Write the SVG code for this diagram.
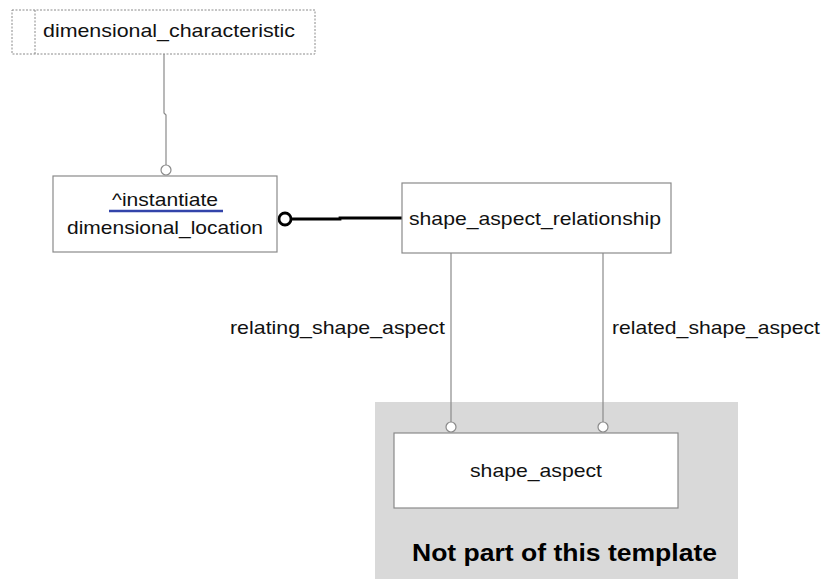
<svg xmlns="http://www.w3.org/2000/svg" width="824" height="579" viewBox="0 0 824 579">
<style>
text{font-family:"Liberation Sans",Arial,sans-serif;font-size:19px;fill:#111;}
.box{fill:#fff;stroke:#8a8a8a;stroke-width:1.2;}
.thin{fill:none;stroke:#8a8a8a;stroke-width:1.2;}
.oc{fill:#fff;stroke:#8a8a8a;stroke-width:1.2;}
</style>
<rect x="0" y="0" width="824" height="579" fill="#fff"/>
<rect x="375" y="402" width="363" height="177" fill="#d9d9d9"/>
<g id="connectors">
<polyline class="thin" points="164,54 164,113 166,115 166,165"/>
<circle class="oc" cx="166" cy="170" r="5"/>
<polyline points="291,219 340,219 340,218 402,218" fill="none" stroke="#000" stroke-width="2.8"/>
<circle cx="285" cy="219" r="6" fill="#fff" stroke="#000" stroke-width="2.8"/>
<line class="thin" x1="451" y1="253" x2="451" y2="422"/>
<circle class="oc" cx="451" cy="427" r="5"/>
<line class="thin" x1="603" y1="253" x2="603" y2="422"/>
<circle class="oc" cx="603" cy="427" r="5"/>
<text x="230" y="334" textLength="215" lengthAdjust="spacingAndGlyphs">relating_shape_aspect</text>
<text x="612" y="334" textLength="208" lengthAdjust="spacingAndGlyphs">related_shape_aspect</text>
</g>
<g id="dimensional_characteristic">
<rect x="12" y="10" width="303" height="44" fill="#fff" stroke="#8a8a8a" stroke-width="1" stroke-dasharray="2,1.5"/>
<line x1="35" y1="10" x2="35" y2="54" stroke="#8a8a8a" stroke-width="1" stroke-dasharray="2,1.5"/>
<text x="43" y="37" textLength="252" lengthAdjust="spacingAndGlyphs">dimensional_characteristic</text>
</g>
<g id="dimensional_location">
<rect class="box" x="53" y="176" width="224" height="76"/>
<text x="112" y="206" textLength="106" lengthAdjust="spacingAndGlyphs">^instantiate</text>
<line x1="109" y1="211" x2="223" y2="211" stroke="#3344aa" stroke-width="2.5"/>
<text x="67" y="234" textLength="196" lengthAdjust="spacingAndGlyphs">dimensional_location</text>
</g>
<g id="shape_aspect_relationship">
<rect class="box" x="402" y="183" width="269" height="70"/>
<text x="409" y="225" textLength="252" lengthAdjust="spacingAndGlyphs">shape_aspect_relationship</text>
</g>
<g id="shape_aspect">
<rect class="box" x="394" y="433" width="284" height="75"/>
<text x="470" y="477" textLength="132" lengthAdjust="spacingAndGlyphs">shape_aspect</text>
</g>
<g id="note">
<text x="412" y="561" textLength="305" lengthAdjust="spacingAndGlyphs" style="font-weight:bold;font-size:23px;fill:#000">Not part of this template</text>
</g>
</svg>
